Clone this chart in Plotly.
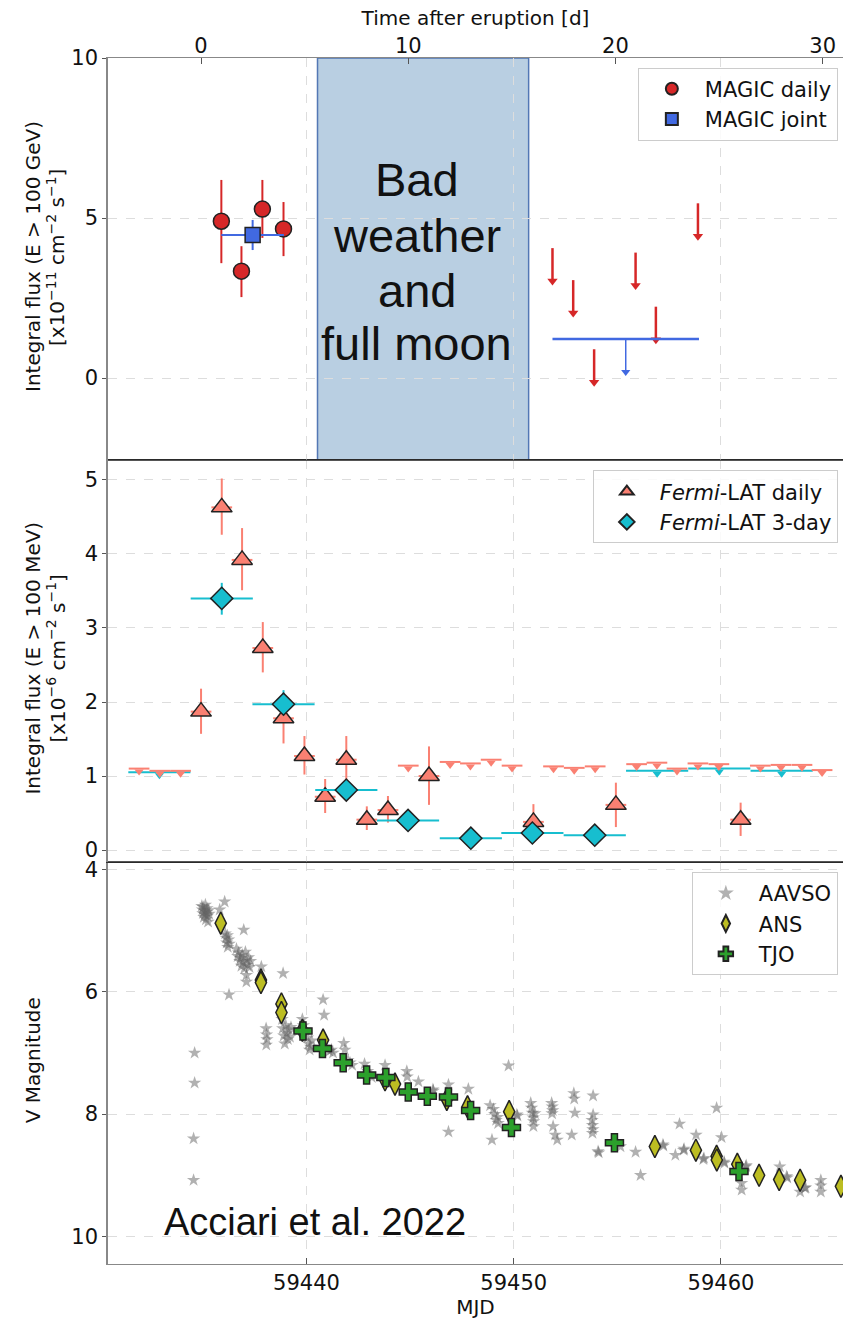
import plotly.graph_objects as go

# ---------------- DATA ----------------
T0 = 59434.91  # eruption MJD (top axis offset)

# MAGIC daily detections
magic_mjd = [59435.89, 59436.86, 59437.87, 59438.89]
magic_flux = [4.90, 3.34, 5.28, 4.66]
magic_err_hi = [1.29, 0.78, 0.91, 0.84]
magic_err_lo = [1.31, 0.81, 0.90, 0.85]

# MAGIC joint
joint_mjd = [59437.40]
joint_flux = [4.47]
joint_xerr = [1.51]
joint_yerr = [0.47]

# MAGIC daily upper limits
magic_ul_mjd = [59451.87, 59452.87, 59453.88, 59455.88, 59456.86, 59458.89]
magic_ul_val = [4.06, 3.06, 0.90, 3.92, 2.23, 5.46]

# MAGIC joint upper limit
joint_ul_start = 59451.87
joint_ul_end = 59458.94
joint_ul_val = 1.22

# Bad weather period and its label
bad_start = 59440.53
bad_end = 59450.72
bad_lines = ["Bad", "weather", "and", "full moon"]
bad_line_y = [6.19, 4.47, 2.75, 1.09]

# Fermi-LAT daily detections
fd_mjd = [59434.91, 59435.91, 59436.89, 59437.89, 59438.89, 59439.90, 59440.90,
          59441.92, 59442.91, 59443.93, 59445.91, 59450.95, 59454.93, 59460.95]
fd_flux = [1.87, 4.63, 3.92, 2.73, 1.78, 1.27, 0.72, 1.22, 0.41, 0.54, 1.00, 0.38, 0.61, 0.41]
fd_err_hi = [0.31, 0.39, 0.43, 0.35, 0.30, 0.27, 0.24, 0.32, 0.18, 0.19, 0.40, 0.24, 0.30, 0.23]
fd_err_lo = [0.30, 0.37, 0.41, 0.33, 0.34, 0.25, 0.22, 0.30, 0.14, 0.17, 0.39, 0.13, 0.30, 0.22]

# Fermi-LAT daily upper limits
fdul_mjd = [59431.92, 59432.92, 59433.92, 59444.91, 59446.93, 59447.91, 59448.91, 59449.92,
            59451.92, 59452.92, 59453.93, 59455.93, 59456.91, 59457.88, 59458.89, 59459.90,
            59461.90, 59462.90, 59463.91, 59464.88]
fdul_val = [1.10, 1.07, 1.07, 1.14, 1.19, 1.17, 1.22, 1.14, 1.13, 1.11, 1.13, 1.16, 1.18,
            1.10, 1.17, 1.16, 1.14, 1.15, 1.15, 1.08]

# Fermi-LAT 3-day detections
f3_mjd = [59435.91, 59438.89, 59441.92, 59444.90, 59447.93, 59450.90, 59453.91]
f3_flux = [3.40, 1.97, 0.81, 0.40, 0.16, 0.23, 0.20]
f3_err_hi = [0.21, 0.19, 0.12, 0.05, 0.04, 0.08, 0.05]
f3_err_lo = [0.22, 0.15, 0.10, 0.05, 0.04, 0.08, 0.05]

# Fermi-LAT 3-day upper limits
f3ul_mjd = [59432.90, 59456.92, 59459.92, 59462.93]
f3ul_val = [1.05, 1.07, 1.10, 1.07]

# ANS V magnitudes
ans_mjd = [59435.86, 59437.80, 59437.80, 59438.79, 59438.79, 59439.80, 59440.80, 59443.79,
           59444.27, 59446.77, 59447.77, 59449.78, 59456.81, 59458.79, 59459.79, 59459.80,
           59460.79, 59461.84, 59462.81, 59463.82, 59465.79]
ans_mag = [4.88, 5.81, 5.85, 6.20, 6.34, 6.63, 6.79, 7.44, 7.51, 7.76, 7.88, 7.96, 8.53,
           8.59, 8.69, 8.75, 8.82, 9.00, 9.07, 9.08, 9.18]

# TJO V magnitudes
tjo_mjd = [59439.83, 59440.77, 59441.77, 59442.90, 59443.83, 59444.91, 59445.83, 59446.85,
           59447.92, 59449.89, 59454.86, 59460.87]
tjo_mag = [6.64, 6.93, 7.16, 7.36, 7.40, 7.64, 7.71, 7.72, 7.94, 8.22, 8.47, 8.94]

# AAVSO V magnitudes
aavso_mjd = [
    59434.95, 59434.98, 59435.00, 59435.02, 59435.05, 59435.08, 59435.10, 59435.12, 59435.15,
    59435.18, 59435.20, 59435.22, 59435.25, 59435.28, 59435.30, 59436.05, 59435.81,
    59436.08, 59436.12, 59436.15, 59436.18, 59436.20, 59436.24, 59436.27, 59436.97,
    59436.62, 59436.68, 59436.72, 59436.78, 59436.82, 59436.86, 59436.90, 59436.95, 59437.00,
    59437.05, 59437.10, 59437.15, 59437.20, 59437.25, 59437.30,
    59437.10, 59437.10, 59436.26, 59437.82, 59438.87,
    59438.05, 59438.07, 59438.09, 59438.06,
    59438.82, 59438.85, 59438.90, 59438.95, 59439.00, 59439.05, 59439.10, 59439.15, 59439.20, 59439.25,
    59434.60, 59434.60, 59434.55, 59434.55,
    59439.80, 59439.85, 59439.95, 59440.05, 59440.10, 59440.15, 59440.20, 59440.25,
    59440.80, 59440.85, 59441.00, 59441.10, 59441.20, 59441.28, 59441.80, 59441.85,
    59442.00, 59442.10, 59442.20, 59442.80, 59442.95, 59443.05, 59443.15,
    59443.79, 59444.84, 59444.86, 59445.40, 59446.10, 59446.12, 59446.85, 59446.85, 59447.81,
    59448.86, 59448.95, 59449.02, 59449.08, 59449.15, 59449.22, 59449.25, 59449.75,
    59450.15, 59450.18, 59450.82, 59450.86, 59450.90, 59450.94, 59450.96, 59451.02, 59450.95,
    59451.83, 59451.86, 59451.88, 59451.85, 59451.90, 59452.00, 59452.10,
    59452.80, 59452.90, 59452.92, 59452.95, 59453.83, 59453.83,
    59453.78, 59453.80, 59453.82, 59453.80, 59454.07, 59454.10, 59455.15, 59455.88, 59456.12,
    59457.20, 59457.22, 59457.80, 59458.00, 59458.20, 59458.22, 59458.80, 59459.15, 59459.18,
    59459.79, 59460.03, 59460.15, 59460.17, 59461.20, 59461.22, 59461.00, 59461.00,
    59462.84, 59463.17, 59463.20, 59463.82, 59464.05, 59464.08, 59464.82, 59464.82, 59464.82]
aavso_mag = [
    4.60, 4.66, 4.72, 4.62, 4.78, 4.68, 4.74, 4.58, 4.82,
    4.70, 4.64, 4.76, 4.86, 4.67, 4.73, 4.53, 4.66,
    5.05, 5.12, 5.20, 5.08, 5.27, 5.15, 5.22, 4.99,
    5.30, 5.42, 5.36, 5.50, 5.45, 5.58, 5.40, 5.52, 5.62,
    5.35, 5.48, 5.56, 5.44, 5.60, 5.50,
    5.73, 5.84, 6.05, 5.59, 5.70,
    6.60, 6.70, 6.78, 6.87,
    6.45, 6.60, 6.72, 6.85, 6.55, 6.68, 6.78, 6.62, 6.74, 6.58,
    7.00, 7.49, 8.40, 9.08,
    6.45, 6.55, 6.62, 6.75, 6.85, 6.95, 6.90, 6.80,
    6.13, 6.38, 6.92, 6.97, 6.95, 7.00, 6.84, 6.95,
    7.12, 7.16, 7.20, 7.18, 7.30, 7.35, 7.40,
    7.20, 7.30, 7.39, 7.47, 7.60, 7.62, 7.52, 8.29, 7.59,
    7.86, 8.42, 7.92, 8.00, 8.10, 8.05, 8.15, 7.21,
    8.01, 8.03, 7.82, 7.90, 7.98, 8.06, 8.12, 7.99, 8.20,
    7.82, 7.88, 7.94, 7.99, 8.20, 8.34, 8.42,
    8.34, 7.66, 7.75, 7.98, 7.70, 8.01,
    8.10, 8.18, 8.25, 8.31, 8.61, 8.63, 8.53, 8.62, 9.00,
    8.50, 8.52, 8.67, 8.16, 8.59, 8.57, 8.34, 8.74, 8.72,
    7.90, 8.38, 8.78, 8.80, 8.86, 8.84, 9.13, 9.24,
    8.86, 9.02, 9.04, 9.27, 9.21, 9.20, 9.08, 9.17, 9.27]

X_RANGE = [59430.42, 59465.89]
TOP_X_TICKS = [0, 10, 20, 30]
MJD_TICKS = [59440, 59450, 59460]

# ---------------- STYLE ----------------
RED = "#d62728"
BLUE = "#4169e1"
SALMON = "#fa8072"
CYAN = "#17becf"
OLIVE = "#bcbd22"
GREEN = "#2ca02c"
FONT = "DejaVu Sans"
UL_ARROW = 1.15

fig = go.Figure()

# ---- top panel (MAGIC) ----
ux, uy = [], []
for m, v in zip(magic_ul_mjd, magic_ul_val):
    ux += [m, m, None]
    uy += [v, v - UL_ARROW + 0.1, None]
fig.add_trace(go.Scatter(x=ux, y=uy, mode="lines", line=dict(color=RED, width=2.5),
                         xaxis="x3", yaxis="y3", showlegend=False, hoverinfo="skip"))
fig.add_trace(go.Scatter(x=magic_ul_mjd, y=[v - UL_ARROW + 0.12 for v in magic_ul_val],
                         mode="markers", marker=dict(symbol="triangle-down", size=9, color=RED),
                         xaxis="x3", yaxis="y3", showlegend=False, hoverinfo="skip"))
jc = (joint_ul_start + joint_ul_end) / 2
fig.add_trace(go.Scatter(x=[joint_ul_start, joint_ul_end], y=[joint_ul_val, joint_ul_val],
                         mode="lines", line=dict(color=BLUE, width=2.5),
                         xaxis="x3", yaxis="y3", showlegend=False, hoverinfo="skip"))
fig.add_trace(go.Scatter(x=[jc, jc], y=[joint_ul_val, joint_ul_val - UL_ARROW + 0.1],
                         mode="lines", line=dict(color=BLUE, width=1.5),
                         xaxis="x3", yaxis="y3", showlegend=False, hoverinfo="skip"))
fig.add_trace(go.Scatter(x=[jc], y=[joint_ul_val - UL_ARROW + 0.12], mode="markers",
                         marker=dict(symbol="triangle-down", size=8, color=BLUE),
                         xaxis="x3", yaxis="y3", showlegend=False, hoverinfo="skip"))

fig.add_trace(go.Scatter(
    x=magic_mjd, y=magic_flux, mode="markers", name="MAGIC daily",
    marker=dict(symbol="circle", size=16, color=RED, line=dict(color="#222", width=1.5)),
    error_y=dict(type="data", symmetric=False, array=magic_err_hi, arrayminus=magic_err_lo,
                 color=RED, thickness=2, width=0),
    xaxis="x3", yaxis="y3", legend="legend"))
fig.add_trace(go.Scatter(
    x=joint_mjd, y=joint_flux, mode="markers", name="MAGIC joint",
    marker=dict(symbol="square", size=15, color=BLUE, line=dict(color="#222", width=1.5)),
    error_x=dict(type="data", array=joint_xerr, color=BLUE, thickness=2, width=0),
    error_y=dict(type="data", array=joint_yerr, color=BLUE, thickness=2, width=0),
    xaxis="x3", yaxis="y3", legend="legend"))

# invisible trace for top time axis
fig.add_trace(go.Scatter(x=[X_RANGE[0] - T0, X_RANGE[1] - T0], y=[0, 0], mode="markers",
                         marker=dict(opacity=0), xaxis="x4", yaxis="y3",
                         showlegend=False, hoverinfo="skip"))

# ---- middle panel (Fermi) ----
def ul_lines(mjds, vals, half):
    xs, ys = [], []
    for m, v in zip(mjds, vals):
        xs += [m - half, m + half, None]
        ys += [v, v, None]
    return xs, ys

xs, ys = ul_lines(f3ul_mjd, f3ul_val, 1.5)
fig.add_trace(go.Scatter(x=xs, y=ys, mode="lines", line=dict(color=CYAN, width=2),
                         xaxis="x2", yaxis="y2", showlegend=False, hoverinfo="skip"))
fig.add_trace(go.Scatter(x=f3ul_mjd, y=[v - 0.04 for v in f3ul_val], mode="markers",
                         marker=dict(symbol="triangle-down", size=8, color=CYAN),
                         xaxis="x2", yaxis="y2", showlegend=False, hoverinfo="skip"))
xs, ys = ul_lines(fdul_mjd, fdul_val, 0.5)
fig.add_trace(go.Scatter(x=xs, y=ys, mode="lines", line=dict(color=SALMON, width=2),
                         xaxis="x2", yaxis="y2", showlegend=False, hoverinfo="skip"))
fig.add_trace(go.Scatter(x=fdul_mjd, y=[v - 0.04 for v in fdul_val], mode="markers",
                         marker=dict(symbol="triangle-down", size=8, color=SALMON),
                         xaxis="x2", yaxis="y2", showlegend=False, hoverinfo="skip"))

fig.add_trace(go.Scatter(
    x=fd_mjd, y=fd_flux, mode="markers", name="<i>Fermi</i>-LAT daily",
    marker=dict(symbol="triangle-up", size=18, color=SALMON, line=dict(color="#222", width=1.5)),
    error_x=dict(type="data", array=[0.5] * len(fd_mjd), color=SALMON, thickness=2, width=0),
    error_y=dict(type="data", symmetric=False, array=fd_err_hi, arrayminus=fd_err_lo,
                 color=SALMON, thickness=2, width=0),
    xaxis="x2", yaxis="y2", legend="legend2"))
fig.add_trace(go.Scatter(
    x=f3_mjd, y=f3_flux, mode="markers", name="<i>Fermi</i>-LAT 3-day",
    marker=dict(symbol="diamond", size=17, color=CYAN, line=dict(color="#222", width=1.5)),
    error_x=dict(type="data", array=[1.5] * len(f3_mjd), color=CYAN, thickness=2, width=0),
    error_y=dict(type="data", symmetric=False, array=f3_err_hi, arrayminus=f3_err_lo,
                 color=CYAN, thickness=2, width=0),
    xaxis="x2", yaxis="y2", legend="legend2"))

# ---- bottom panel (optical) ----
fig.add_trace(go.Scatter(
    x=aavso_mjd, y=aavso_mag, mode="markers", name="AAVSO",
    marker=dict(symbol="star", size=10, color="rgba(100,100,100,0.5)", line=dict(width=0)),
    xaxis="x", yaxis="y", legend="legend3"))
fig.add_trace(go.Scatter(
    x=ans_mjd, y=ans_mag, mode="markers", name="ANS",
    marker=dict(symbol="diamond-tall", size=16, color=OLIVE, line=dict(color="#222", width=1.5)),
    xaxis="x", yaxis="y", legend="legend3"))
fig.add_trace(go.Scatter(
    x=tjo_mjd, y=tjo_mag, mode="markers", name="TJO",
    marker=dict(symbol="cross", size=15, color=GREEN, line=dict(color="#222", width=1.5)),
    xaxis="x", yaxis="y", legend="legend3"))

# ---------------- LAYOUT ----------------
tickfont = dict(family=FONT, size=21, color="#111")
titlefont = dict(family=FONT, size=20, color="#111")
grid = dict(showgrid=True, gridcolor="#dddddd", griddash="dash", gridwidth=1)
yline = dict(showline=True, linecolor="#888", linewidth=1.5, ticks="outside", ticklen=4,
             tickcolor="#555", zeroline=False, automargin=False)

legend_style = dict(bgcolor="rgba(255,255,255,0.85)", bordercolor="#cccccc", borderwidth=1,
                    font=dict(family=FONT, size=21, color="#111"), xanchor="right",
                    yanchor="top", x=0.993, itemsizing="constant", itemwidth=56,
                    tracegroupgap=2)

def ytitle(text, xpx, ypaper):
    return dict(text=text, xref="paper", yref="paper", x=(xpx - 108) / 735, y=ypaper,
                textangle=-90, showarrow=False, xanchor="center", yanchor="middle",
                font=titlefont)

annotations = [
    ytitle("Integral flux (E &gt; 100 GeV)", 33, 0.835),
    ytitle("[x10<sup>\u221211</sup> cm<sup>\u22122</sup> s<sup>\u22121</sup>]", 56, 0.835),
    ytitle("Integral flux (E &gt; 100 MeV)", 33, 0.502),
    ytitle("[x10<sup>\u22126</sup> cm<sup>\u22122</sup> s<sup>\u22121</sup>]", 56, 0.502),
    ytitle("V Magnitude", 33, 0.169),
    dict(text="Acciari et al. 2022", xref="paper", yref="paper", x=0.073, y=0.035,
         xanchor="left", yanchor="middle", showarrow=False,
         font=dict(family="Liberation Sans", size=38, color="#111")),
]
for line, yv in zip(bad_lines, bad_line_y):
    annotations.append(dict(text=line, xref="x3", yref="y3", x=59445.33, y=yv,
                            showarrow=False, xanchor="center", yanchor="middle",
                            font=dict(family="Liberation Sans", size=47, color="#111")))

fig.update_layout(
    width=843, height=1319,
    margin=dict(l=108, r=0, t=58, b=55, autoexpand=False),
    plot_bgcolor="white", paper_bgcolor="white",
    font=dict(family=FONT, color="#111"),
    xaxis=dict(domain=[0, 1], anchor="y", range=X_RANGE, tickvals=MJD_TICKS, tickformat="d",
               ticks="inside", ticklen=6, tickcolor="#555", tickfont=tickfont,
               title=dict(text="MJD", font=titlefont, standoff=4), automargin=False,
               showline=True, linecolor="#888", linewidth=1, mirror=True, **grid),
    xaxis2=dict(domain=[0, 1], anchor="y2", matches="x", range=X_RANGE, tickvals=MJD_TICKS,
                showticklabels=False, ticks="", showline=True, linecolor="#333",
                linewidth=1, mirror=True, automargin=False, **grid),
    xaxis3=dict(domain=[0, 1], anchor="y3", matches="x", range=X_RANGE, tickvals=MJD_TICKS,
                showticklabels=False, ticks="", showline=True, linecolor="#888",
                linewidth=1, mirror=True, automargin=False, **grid),
    xaxis4=dict(overlaying="x3", anchor="y3", side="top",
                range=[X_RANGE[0] - T0, X_RANGE[1] - T0], tickvals=TOP_X_TICKS,
                ticks="inside", ticklen=6, tickcolor="#555", tickfont=tickfont,
                title=dict(text="Time after eruption [d]", font=titlefont, standoff=2),
                showgrid=False, zeroline=False, automargin=False),
    yaxis=dict(domain=[0, 1 / 3], anchor="x", range=[10.45, 3.88], tickvals=[4, 6, 8, 10],
               tickfont=tickfont, **grid, **yline),
    yaxis2=dict(domain=[1 / 3, 2 / 3], anchor="x2", range=[-0.162, 5.27],
                tickvals=[0, 1, 2, 3, 4, 5], tickfont=tickfont, **grid, **yline),
    yaxis3=dict(domain=[2 / 3, 1], anchor="x3", range=[-2.56, 10.0], tickvals=[0, 5, 10],
                tickfont=tickfont, **grid, **yline),
    legend=dict(y=0.992, **legend_style),
    legend2=dict(y=0.658, **legend_style),
    legend3=dict(y=0.325, **legend_style),
    shapes=[
        dict(type="rect", xref="x3", yref="y3 domain", x0=bad_start, x1=bad_end, y0=0, y1=1,
             fillcolor="rgba(70,130,180,0.38)", line=dict(color="rgba(60,100,170,0.85)", width=1.5),
             layer="below"),
        dict(type="line", xref="paper", yref="paper", x0=0, x1=1, y0=1 / 3, y1=1 / 3,
             line=dict(color="#222", width=1.2)),
        dict(type="line", xref="paper", yref="paper", x0=0, x1=1, y0=2 / 3, y1=2 / 3,
             line=dict(color="#222", width=1.2)),
    ],
    annotations=annotations,
)

fig.write_html("out.html", config={"displayModeBar": False},
               post_script="document.body.style.margin='0px';")
